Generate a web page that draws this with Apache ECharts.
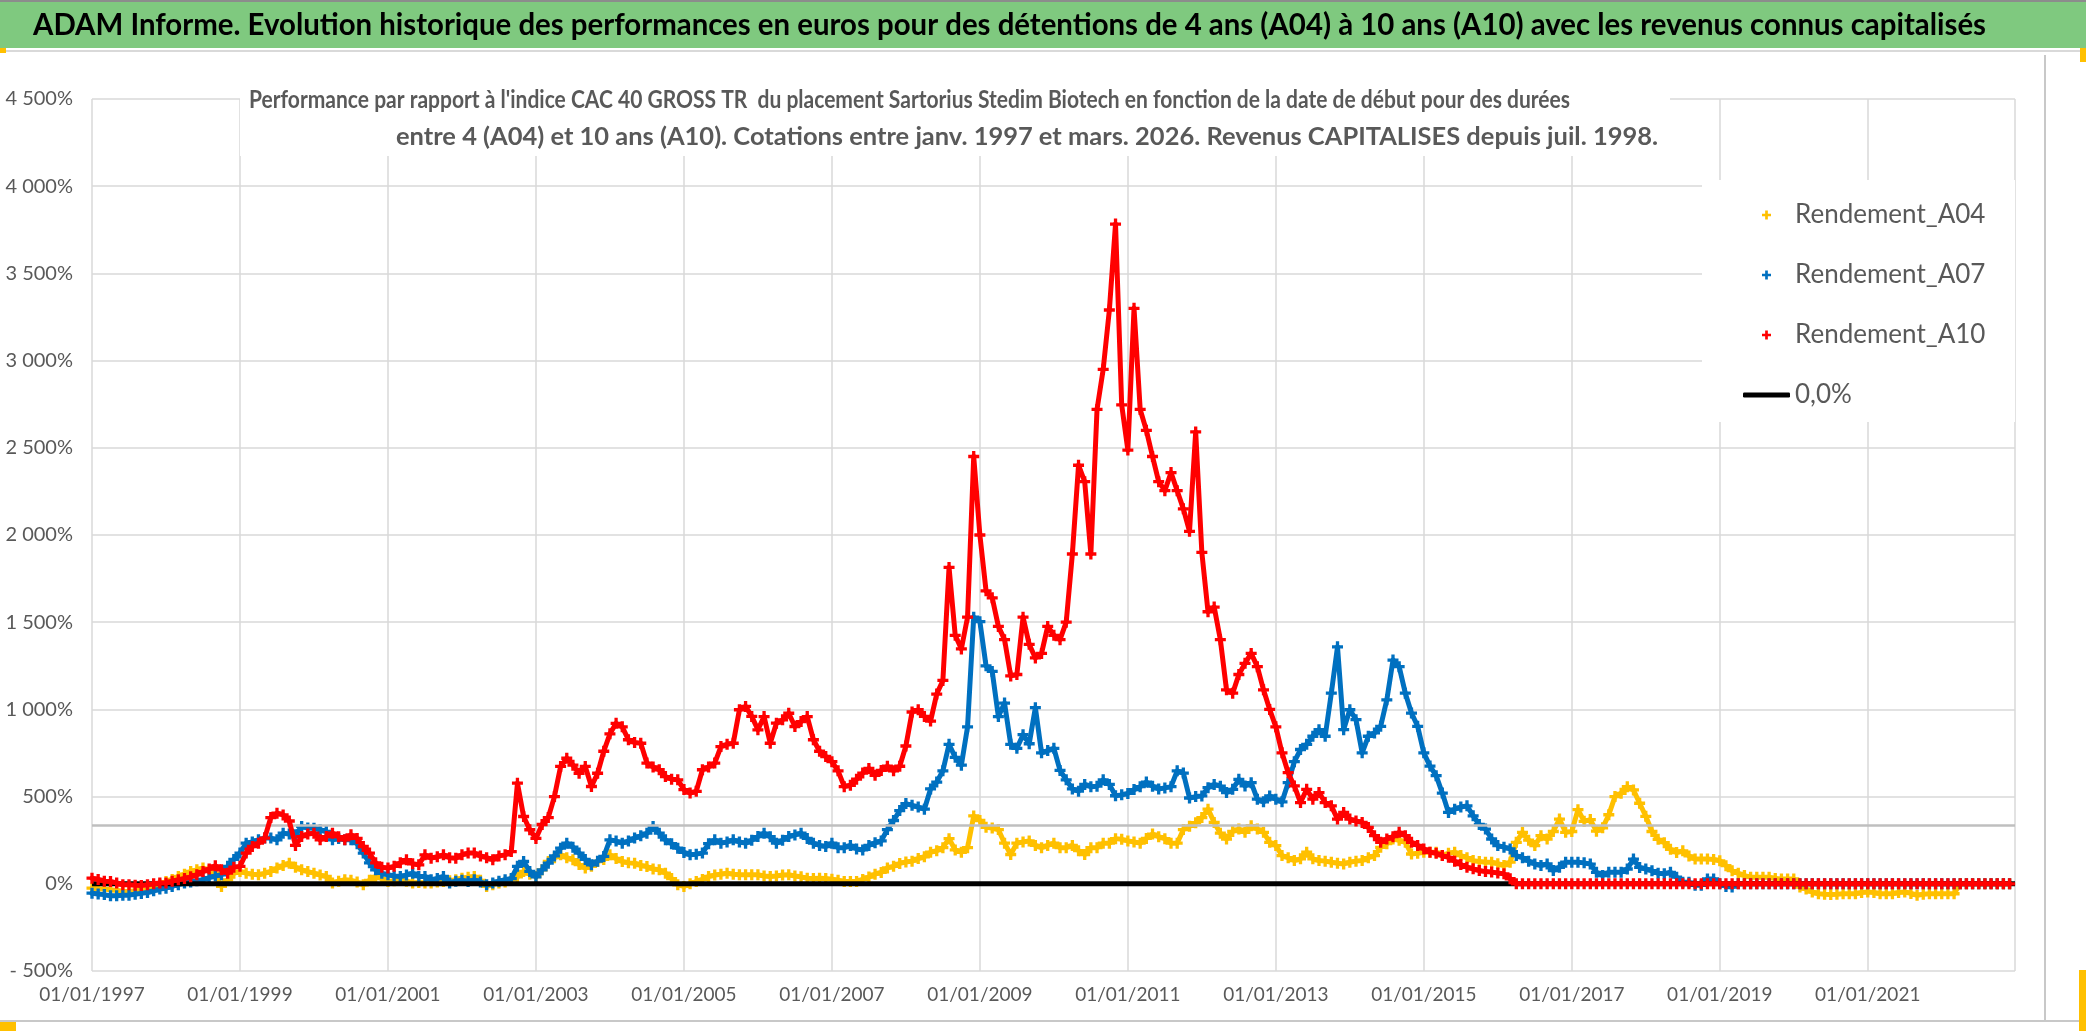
<!DOCTYPE html>
<html><head><meta charset="utf-8">
<script src="https://cdn.jsdelivr.net/npm/echarts/dist/echarts.min.js"></script>
<style>html,body{margin:0;padding:0;background:#fff;overflow:hidden}#c{width:2086px;height:1031px}</style>
</head><body><div id="c"></div>
<script>
// ---------- texts ----------
const mainTitle = "ADAM Informe. Evolution historique des performances en euros pour des détentions de 4 ans (A04) à 10 ans (A10) avec les revenus connus capitalisés";
const subTitle1 = "Performance par rapport à l'indice CAC 40 GROSS TR  du placement Sartorius Stedim Biotech en fonction de la date de début pour des durées";
const subTitle2 = "entre 4 (A04) et 10 ans (A10). Cotations entre janv. 1997 et mars. 2026. Revenus CAPITALISES depuis juil. 1998.";
const seriesNames = ['Rendement_A04', 'Rendement_A07', 'Rendement_A10', '0,0%'];

// ---------- axes ----------
const startYear = 1997;          // first monthly point = 01/01/1997
const xMin = 1997, xMax = 2022.99, xInterval = 2;
const yMin = -500, yMax = 4500, yInterval = 500;
const refLineValue = 333;        // grey horizontal line drawn across the plot

// ---------- monthly values (%), Jan 1997 .. Dec 2022 ----------
const a04 = [
 -25,-28,-30,-34,-38,-42,-44,-40,-36,-34,-20,-5,
 13,25,42,55,71,80,90,75,61,-15,23,60,
 71,61,55,52,60,71,90,105,118,95,80,70,
 61,50,42,4,15,23,20,10,-6,20,42,30,
 13,18,23,15,4,8,4,4,10,13,18,23,
 32,38,42,20,-15,-5,4,10,23,40,71,55,
 42,80,128,150,166,150,138,110,90,100,128,140,
 166,145,128,120,118,105,99,85,80,61,30,-6,
 -15,0,13,25,42,50,55,61,55,52,52,52,
 52,45,42,45,50,52,45,40,32,30,32,30,
 26,20,13,13,13,25,39,55,65,91,100,117,
 125,130,145,155,181,190,207,259,194,181,207,389,
 363,324,320,311,233,168,233,240,246,220,207,220,
 233,207,207,220,190,168,207,207,233,233,259,255,
 246,240,233,260,285,270,259,233,233,311,330,350,
 380,428,352,290,257,300,314,295,333,314,295,238,
 219,162,150,133,143,181,143,133,130,124,118,114,
 124,130,133,150,162,209,230,257,250,238,171,175,
 181,181,181,162,175,181,162,150,133,128,124,124,
 115,105,124,238,295,250,219,276,257,300,371,295,
 300,425,358,368,302,321,396,500,519,557,538,462,
 387,300,255,236,198,179,189,160,142,142,142,140,
 132,104,75,60,47,38,38,38,38,30,28,28,
 28,-19,-30,-47,-57,-60,-62,-60,-57,-57,-57,-50,
 -47,-50,-57,-57,-57,-50,-47,-55,-66,-60,-57,-57,
 -57,-57,-57,0,0,0,0,0,0,0,0,0
];
const a07 = [
 -54,-58,-62,-69,-68,-66,-65,-60,-55,-50,-40,-30,
 -25,-15,-5,4,10,18,23,35,45,52,100,140,
 176,233,240,252,262,262,252,290,285,281,329,320,
 319,310,300,252,260,252,252,230,176,120,80,60,
 52,45,42,50,61,42,42,23,30,42,4,15,
 20,13,23,10,-6,5,15,23,30,100,128,71,
 40,80,118,160,204,233,210,176,140,109,130,157,
 252,245,233,245,262,275,290,329,290,252,230,204,
 180,166,170,176,230,252,233,240,252,240,233,250,
 271,290,270,233,250,271,280,290,260,233,220,214,
 233,207,207,220,200,194,220,235,246,311,363,420,
 460,450,440,428,544,583,648,800,725,680,900,1529,
 1503,1250,1218,959,1036,800,777,855,803,1010,751,764,
 777,650,596,544,531,570,557,560,596,570,505,510,
 518,540,557,583,560,544,550,557,648,635,492,500,
 504,551,570,560,523,542,599,561,580,485,470,504,
 485,470,580,700,770,800,846,884,846,1093,1359,884,
 998,941,751,846,865,903,1055,1283,1245,1093,979,903,
 751,675,620,520,409,428,440,447,390,340,314,257,
 219,210,200,162,150,130,114,105,114,76,95,124,
 123,123,120,113,66,47,66,66,66,85,142,94,
 85,75,60,57,66,38,9,9,-9,-9,28,28,
 0,-15,-19,0,0,0,0,0,0,0,0,0,
 0,0,0,0,0,0,0,0,0,0,0,0,
 0,0,0,0,0,0,0,0,0,0,0,0,
 0,0,0,0,0,0,0,0,0,0,0,0
];
const a10 = [
 32,25,15,13,5,-6,-5,-8,-10,-5,0,4,
 4,15,23,30,40,52,70,85,103,80,61,95,
 100,176,214,233,262,380,405,395,360,220,271,285,
 290,252,271,290,270,252,281,260,214,176,120,95,
 90,100,120,138,115,109,166,147,155,166,150,147,
 166,176,176,160,150,138,160,166,185,577,386,310,
 260,340,380,500,673,720,680,634,673,558,634,760,
 860,920,900,826,810,806,692,670,654,615,600,596,
 540,520,530,654,670,692,787,800,806,998,1017,960,
 883,959,806,921,940,978,902,930,959,826,760,730,
 700,648,557,565,600,635,661,622,650,674,648,674,
 790,985,998,960,933,1088,1166,1814,1425,1347,1529,2450,
 2000,1680,1640,1476,1400,1192,1200,1529,1373,1295,1321,1476,
 1425,1400,1500,1891,2400,2306,1891,2720,2950,3290,3783,2746,
 2487,3300,2720,2600,2450,2306,2254,2358,2254,2150,2021,2591,
 1900,1560,1587,1400,1112,1093,1200,1264,1321,1245,1112,1000,
 900,751,637,561,466,542,485,523,466,447,371,409,
 371,360,352,323,276,238,257,270,295,276,238,220,
 200,181,175,162,152,130,110,95,86,76,70,67,
 62,57,29,0,0,0,0,0,0,0,0,0,
 0,0,0,0,0,0,0,0,0,0,0,0,
 0,0,0,0,0,0,0,0,0,0,0,0,
 0,0,0,0,0,0,0,0,0,0,0,0,
 0,0,0,0,0,0,0,0,0,0,0,0,
 0,0,0,0,0,0,0,0,0,0,0,0,
 0,0,0,0,0,0,0,0,0,0,0,0
];
const zeroLine = [[xMin, 0], [xMax, 0]];

// ---------- styles ----------
const colors = ['#FFC000', '#0070C0', '#FF0000', '#000000'];
const plusPath = 'path://M3.5,0H6.5V3.5H10V6.5H6.5V10H3.5V6.5H0V3.5H3.5Z';
const labelColor = '#595959';
const fontUI = 'Lato, "Open Sans", sans-serif';

const toPts = arr => arr.map((v, i) => [startYear + i / 12, v]);

const measure = (() => { const c = document.createElement('canvas').getContext('2d');
  return (t, f) => { c.font = f; return c.measureText(t).width; }; })();
const fitScale = (t, f, w) => w / measure(t, f);

const fTitle = 'bold 31px Lato';
const fSub = 'bold 25px Lato';

function pointSeries(idx, data, z) {
  return {
    name: seriesNames[idx], type: 'line', data: toPts(data), z: z,
    symbol: plusPath, symbolSize: 11, showSymbol: true, showAllSymbol: true,
    itemStyle: { color: colors[idx] },
    lineStyle: { color: colors[idx], width: 5, join: 'round', cap: 'round' },
    emphasis: { disabled: true }, animation: false
  };
}

const s04 = pointSeries(0, a04, 2);
s04.markLine = { silent: true, symbol: ['none', 'none'], label: { show: false },
  lineStyle: { color: '#BFBFBF', width: 2.5, type: 'solid' }, data: [{ yAxis: refLineValue }] };

const chart = echarts.init(document.getElementById('c'), null, { renderer: 'canvas' });
chart.setOption({
  backgroundColor: '#ffffff',
  animation: false,
  grid: { left: 92, right: 71, top: 99, bottom: 60, containLabel: false },
  xAxis: {
    type: 'value', min: xMin, max: xMax, interval: xInterval,
    axisLine: { show: false }, axisTick: { show: false },
    splitLine: { show: true, lineStyle: { color: '#D9D9D9', width: 1.5 } },
    axisLabel: { formatter: v => '01/01/' + Math.round(v), showMaxLabel: false,
      color: labelColor, fontFamily: fontUI, fontSize: 19, margin: 14 }
  },
  yAxis: {
    type: 'value', min: yMin, max: yMax, interval: yInterval,
    axisLine: { show: false }, axisTick: { show: false },
    splitLine: { show: true, lineStyle: { color: '#D9D9D9', width: 1.5 } },
    axisLabel: {
      color: labelColor, fontFamily: fontUI, fontSize: 20, margin: 19,
      formatter: v => { const a = Math.abs(v);
        const s = a >= 1000 ? Math.floor(a / 1000) + ' ' + String(a % 1000).padStart(3, '0') : String(a);
        return (v < 0 ? '- ' : '') + s + '%'; }
    }
  },
  legend: [
    { orient: 'vertical', left: 1757, top: 195, z: 12, itemWidth: 9, itemHeight: 9, itemGap: 30,
      selectedMode: false,
      data: [0, 1, 2].map(i => ({ name: seriesNames[i], icon: plusPath })),
      textStyle: { color: labelColor, fontFamily: fontUI, fontSize: 26, lineHeight: 30, padding: [0, 0, 0, 19] } },
    { orient: 'vertical', left: 1738, top: 375, z: 12, itemWidth: 47, itemHeight: 5,
      selectedMode: false,
      data: [{ name: seriesNames[3], icon: 'roundRect' }],
      textStyle: { color: labelColor, fontFamily: fontUI, fontSize: 26, lineHeight: 30 } }
  ],
  graphic: [
    { type: 'rect', z: 10, silent: true, shape: { x: 0, y: 0, width: 2086, height: 48 }, style: { fill: '#7FC97F' } },
    { type: 'rect', z: 10, silent: true, shape: { x: 0, y: 0, width: 2086, height: 2 }, style: { fill: '#8C8C8C' } },
    { type: 'rect', z: 10, silent: true, shape: { x: 0, y: 50, width: 2086, height: 2 }, style: { fill: '#D9D9D9' } },
    { type: 'text', z: 11, silent: true, x: 33, y: 25, scaleX: fitScale(mainTitle, fTitle, 1953),
      style: { text: mainTitle, font: fTitle, fill: '#000000', verticalAlign: 'middle', align: 'left' } },
    { type: 'rect', z: 10, silent: true, shape: { x: 240, y: 84, width: 1430, height: 72 }, style: { fill: '#ffffff' } },
    { type: 'text', z: 11, silent: true, x: 249, y: 100, scaleX: fitScale(subTitle1, fSub, 1321),
      style: { text: subTitle1, font: fSub, fill: labelColor, verticalAlign: 'middle', align: 'left' } },
    { type: 'text', z: 11, silent: true, x: 396, y: 137, scaleX: fitScale(subTitle2, fSub, 1262),
      style: { text: subTitle2, font: fSub, fill: labelColor, verticalAlign: 'middle', align: 'left' } },
    { type: 'rect', z: 10, silent: true, shape: { x: 1702, y: 180, width: 313, height: 242 }, style: { fill: '#ffffff' } },
    { type: 'rect', z: 10, silent: true, shape: { x: 2044, y: 55, width: 2, height: 966 }, style: { fill: '#C8C8C8' } },
    { type: 'rect', z: 10, silent: true, shape: { x: 0, y: 1020, width: 2086, height: 2 }, style: { fill: '#C8C8C8' } },
    { type: 'rect', z: 10, silent: true, shape: { x: 0, y: 48, width: 6, height: 5 }, style: { fill: '#FFC000' } },
    { type: 'rect', z: 10, silent: true, shape: { x: 2080, y: 48, width: 6, height: 14 }, style: { fill: '#FFC000' } },
    { type: 'rect', z: 10, silent: true, shape: { x: 0, y: 1022, width: 16, height: 9 }, style: { fill: '#FFC000' } },
    { type: 'rect', z: 10, silent: true, shape: { x: 2079, y: 970, width: 7, height: 61 }, style: { fill: '#FFC000' } }
  ],
  series: [
    s04,
    pointSeries(1, a07, 3),
    { name: seriesNames[3], type: 'line', data: zeroLine, z: 4, symbol: 'none',
      itemStyle: { color: colors[3] }, lineStyle: { color: colors[3], width: 5 },
      emphasis: { disabled: true }, animation: false },
    pointSeries(2, a10, 5)
  ]
});
</script></body></html>
